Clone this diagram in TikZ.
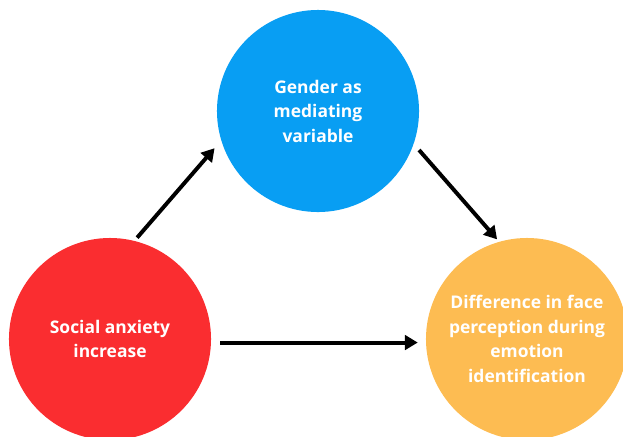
\documentclass[tikz,border=0pt]{standalone}
\usepackage{fontspec}
\setmainfont{Open Sans}
\usepackage{tikz}
\usetikzlibrary{arrows.meta}

\definecolor{gendblue}{RGB}{8,158,243}
\definecolor{anxred}{RGB}{250,45,48}
\definecolor{faceorange}{RGB}{253,188,82}

\begin{document}
\begin{tikzpicture}
	[x=0.025cm,y=-0.025cm,every node/.style={circle,minimum size=5.05cm,inner sep=0pt,align=center,text=white,font=\bfseries\fontsize{12.4}{17.4}\selectfont}]
	\useasboundingbox (0,0) rectangle (623,436);
	\node[fill=gendblue] (gender) at (318,111) {Gender as\\mediating\\variable};
	\node[fill=anxred] (anxiety) at (110,339) {Social anxiety\\increase};
	\node[fill=faceorange] (face) at (527,339) {Difference in face\\perception during\\emotion\\identification};
	
	\foreach \from/\to/\s/\e in
	{anxiety.76/gender.197/4/10, gender.341/face.106/8/3, anxiety.358/face.182/9/8}
	\draw[line width=2.8pt,-{Triangle[length=0.32cm,width=0.36cm]},shorten <=\s*0.025cm,shorten >=\e*0.025cm] (\from) -- (\to);
\end{tikzpicture}
\end{document}
